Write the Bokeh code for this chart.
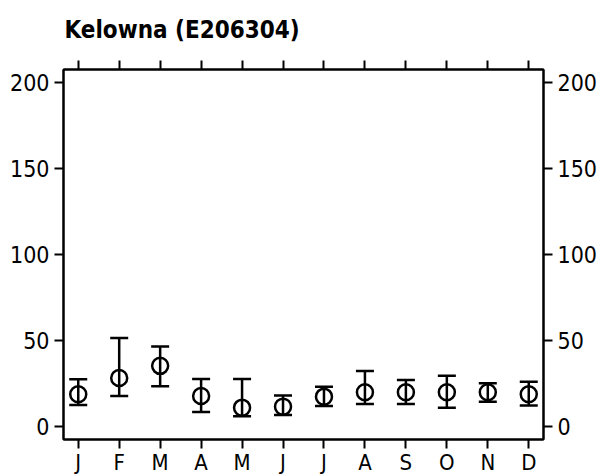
from bokeh.plotting import figure
from bokeh.models import (ColumnDataSource, FixedTicker, LinearAxis, Range1d,
                          Whisker, TeeHead)
from bokeh.embed import file_html
from bokeh.resources import INLINE

# Data
months = ["J", "F", "M", "A", "M", "J", "J", "A", "S", "O", "N", "D"]
month_pos = [1, 2, 3, 4, 5, 6, 7, 8, 9, 10, 11, 12]
mean_vals = [18.8, 28.2, 35.3, 17.8, 11.0, 11.6, 17.4, 20.0, 20.0, 20.0, 20.0, 18.8]
upper_vals = [27.5, 51.5, 46.5, 27.7, 27.7, 18.0, 23.2, 32.3, 27.1, 29.6, 25.2, 26.0]
lower_vals = [12.6, 17.8, 23.4, 8.5, 6.0, 6.8, 12.0, 13.2, 13.2, 11.0, 14.5, 12.2]
y_ticks = [0, 50, 100, 150, 200]
title_text = "Kelowna (E206304)"

FONT = "DejaVu Sans Condensed"
X0, X1 = 0.64, 12.36
Y0, Y1 = -7.5, 207.5

src = ColumnDataSource(dict(x=month_pos, y=mean_vals, upper=upper_vals, lower=lower_vals))

p = figure(width=602, height=476, output_backend="svg", toolbar_location=None,
           x_range=Range1d(X0, X1), y_range=Range1d(Y0, Y1),
           min_border_left=63, min_border_right=59, min_border_top=69,
           min_border_bottom=37, title=title_text)
p.frame_width = 480
p.frame_height = 370

p.title.text_font = FONT
p.title.text_font_style = "bold"
p.title.text_font_size = "24px"
p.title.text_color = "black"
p.title.align = "left"
p.title.vertical_align = "top"
p.title.offset = 1
p.title.standoff = 29

p.xgrid.visible = False
p.ygrid.visible = False
p.outline_line_color = "black"
p.outline_line_width = 2
p.background_fill_color = "white"
p.border_fill_color = "white"

def style_axis(ax, labels=True):
    ax.axis_line_color = "black"
    ax.axis_line_width = 2
    ax.major_tick_line_color = "black"
    ax.major_tick_line_width = 2
    ax.major_tick_in = 0
    ax.major_tick_out = 9
    ax.minor_tick_line_color = None
    ax.major_label_text_font = FONT
    ax.major_label_text_font_size = "23px"
    ax.major_label_text_color = "black"
    ax.major_label_standoff = 5
    if not labels:
        ax.major_label_text_font_size = "0px"
        ax.major_label_text_color = None

# bottom axis
xax = p.xaxis[0]
xax.ticker = FixedTicker(ticks=month_pos)
xax.major_label_overrides = {m: lab for m, lab in zip(month_pos, months)}
style_axis(xax)
xax.major_label_text_font_size = "22px"
xax.major_label_standoff = 1

# left axis
yax = p.yaxis[0]
yax.ticker = FixedTicker(ticks=y_ticks)
style_axis(yax)

# top axis (ticks only)
top = LinearAxis(ticker=FixedTicker(ticks=month_pos))
style_axis(top, labels=False)
top.major_label_standoff = 0
p.add_layout(top, "above")

# right axis
right = LinearAxis(ticker=FixedTicker(ticks=y_ticks))
style_axis(right)
p.add_layout(right, "right")

# error bars
wh = Whisker(base="x", upper="upper", lower="lower", source=src,
             line_color="black", line_width=2.5,
             upper_head=TeeHead(size=18, line_color="black", line_width=2.5),
             lower_head=TeeHead(size=18, line_color="black", line_width=2.5))
p.add_layout(wh)

# open circles
p.scatter("x", "y", source=src, marker="circle", size=16, fill_color=None,
          line_color="black", line_width=2.5)

open("out.html", "w").write(file_html(p, INLINE))
